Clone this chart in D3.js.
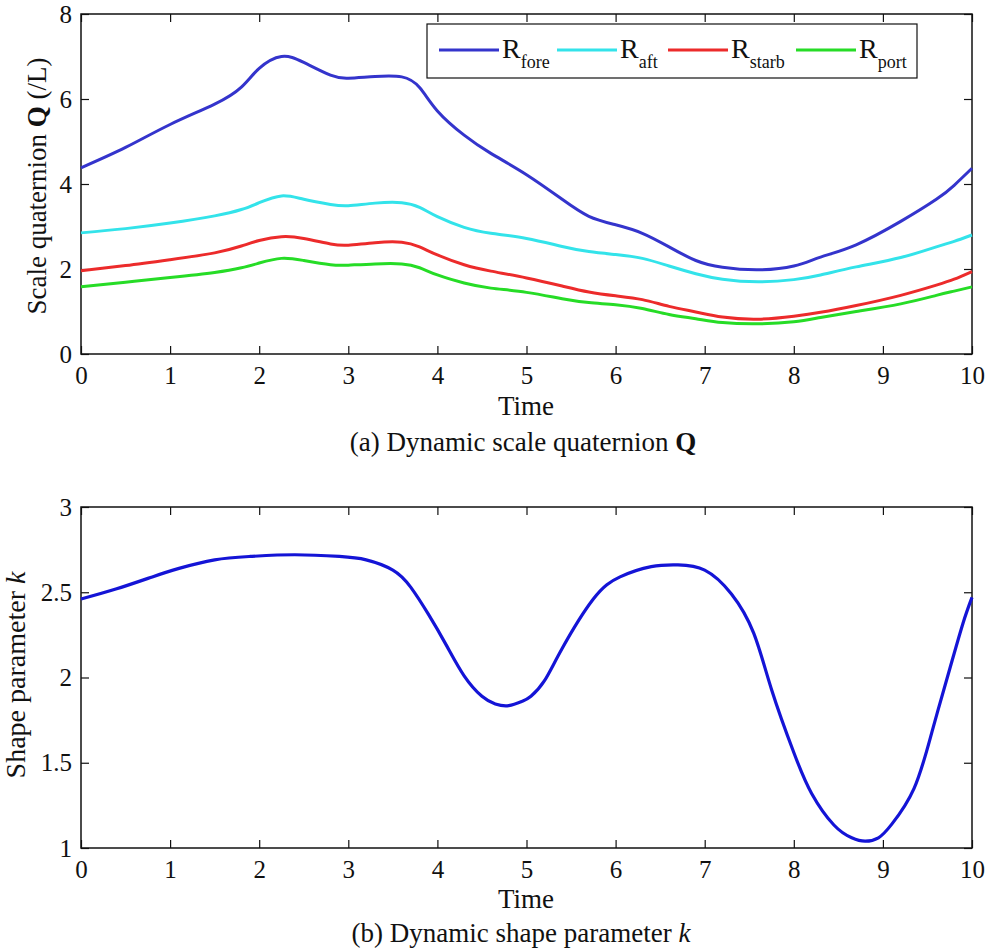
<!DOCTYPE html>
<html>
<head>
<meta charset="utf-8">
<script src="https://cdn.jsdelivr.net/npm/d3@7"></script>
<style>
  body { margin: 0; background: #fff; }
  svg text { font-family: "Liberation Serif", "Times New Roman", serif; fill: #111; }
  .axis path { display: none; }
  .axis line { stroke: #111; stroke-width: 1.2; }
  .axis text { font-size: 25px; }
</style>
</head>
<body>
<div id="chart"></div>
<script>
// time grid for panel (a)
const timeA = [0, 0.5, 1, 1.5, 1.8, 2, 2.25, 2.5, 2.8, 3, 3.3, 3.6, 3.8, 4, 4.3, 4.6, 5, 5.4, 5.7, 6, 6.3, 6.6, 6.9, 7.2, 7.6, 8, 8.3, 8.7, 9.2, 9.6, 9.8, 10];
const rFore  = [4.38, 4.86, 5.40, 5.88, 6.28, 6.72, 7.00, 6.86, 6.56, 6.49, 6.53, 6.52, 6.27, 5.72, 5.15, 4.72, 4.22, 3.64, 3.24, 3.04, 2.84, 2.52, 2.20, 2.04, 1.98, 2.07, 2.28, 2.57, 3.12, 3.64, 3.97, 4.37];
const rAft   = [2.85, 2.95, 3.08, 3.25, 3.40, 3.56, 3.72, 3.64, 3.52, 3.49, 3.55, 3.56, 3.45, 3.23, 2.98, 2.84, 2.72, 2.53, 2.41, 2.34, 2.25, 2.07, 1.89, 1.76, 1.70, 1.75, 1.86, 2.05, 2.27, 2.52, 2.65, 2.80];
const rStarb = [1.96, 2.08, 2.22, 2.38, 2.54, 2.67, 2.76, 2.72, 2.59, 2.56, 2.62, 2.63, 2.52, 2.33, 2.10, 1.95, 1.79, 1.60, 1.46, 1.37, 1.28, 1.12, 0.99, 0.87, 0.82, 0.89, 0.98, 1.14, 1.38, 1.62, 1.76, 1.94];
const rPort  = [1.58, 1.69, 1.80, 1.92, 2.03, 2.14, 2.25, 2.20, 2.10, 2.09, 2.12, 2.12, 2.03, 1.86, 1.67, 1.55, 1.45, 1.30, 1.21, 1.16, 1.07, 0.93, 0.83, 0.74, 0.71, 0.76, 0.86, 1.00, 1.18, 1.38, 1.48, 1.58];

// panel (b)
const timeB = [0, 0.4, 0.8, 1.1, 1.5, 1.9, 2.4, 2.9, 3.2, 3.5, 3.7, 3.9, 4.1, 4.3, 4.5, 4.65, 4.8, 4.95, 5.05, 5.2, 5.4, 5.75, 6.05, 6.4, 6.7, 7.0, 7.3, 7.55, 7.75, 8.0, 8.2, 8.45, 8.65, 8.8, 8.95, 9.1, 9.35, 9.55, 9.75, 9.9, 10];
const shapeK = [2.46, 2.52, 2.59, 2.64, 2.69, 2.71, 2.72, 2.71, 2.69, 2.63, 2.53, 2.37, 2.19, 2.01, 1.89, 1.845, 1.835, 1.86, 1.89, 1.98, 2.17, 2.46, 2.59, 2.65, 2.66, 2.63, 2.49, 2.26, 1.93, 1.56, 1.32, 1.135, 1.06, 1.04, 1.06, 1.14, 1.35, 1.68, 2.05, 2.32, 2.47];

const xTicks = [0, 1, 2, 3, 4, 5, 6, 7, 8, 9, 10];
const yTicksA = [0, 2, 4, 6, 8];
const yTicksB = [1, 1.5, 2, 2.5, 3];

const seriesA = [
  {name: 'fore',  values: rFore,  color: '#3434cc'},
  {name: 'aft',   values: rAft,   color: '#33e3ea'},
  {name: 'starb', values: rStarb, color: '#ec2b2b'},
  {name: 'port',  values: rPort,  color: '#26dc26'}
];

const width = 992, height = 951;
const svg = d3.select('#chart').append('svg')
  .attr('width', width)
  .attr('height', height);

function drawPanel(opts) {
  const {top, bottom, left, right, yDomain, yTicks, yFormat} = opts;
  const x = d3.scaleLinear().domain([0, 10]).range([left, right]);
  const y = d3.scaleLinear().domain(yDomain).range([bottom, top]);
  const g = svg.append('g');

  g.append('g').attr('class', 'axis')
    .attr('transform', `translate(0,${bottom})`)
    .call(d3.axisBottom(x).tickValues(xTicks).tickSize(-8).tickPadding(12).tickFormat(d3.format('d')));
  g.append('g').attr('class', 'axis')
    .attr('transform', `translate(0,${top})`)
    .call(d3.axisTop(x).tickValues(xTicks).tickSize(-8).tickFormat(''));
  g.append('g').attr('class', 'axis')
    .attr('transform', `translate(${left},0)`)
    .call(d3.axisLeft(y).tickValues(yTicks).tickSize(-8).tickPadding(9).tickFormat(yFormat));
  g.append('g').attr('class', 'axis')
    .attr('transform', `translate(${right},0)`)
    .call(d3.axisRight(y).tickValues(yTicks).tickSize(-8).tickFormat(''));

  g.append('rect')
    .attr('x', left).attr('y', top)
    .attr('width', right - left).attr('height', bottom - top)
    .attr('fill', 'none').attr('stroke', '#111').attr('stroke-width', 1.5);

  return {g, x, y};
}

// ---- panel (a)
const pa = drawPanel({top: 14, bottom: 354, left: 81, right: 972, yDomain: [0, 8], yTicks: yTicksA, yFormat: d3.format('d')});
const lineA = d3.line()
  .x((d, i) => pa.x(timeA[i]))
  .y(d => pa.y(d))
  .curve(d3.curveNatural);

pa.g.selectAll('.series')
  .data(seriesA)
  .enter().append('path')
  .attr('class', 'series')
  .attr('d', s => lineA(s.values))
  .attr('fill', 'none')
  .attr('stroke', s => s.color)
  .attr('stroke-width', 3);

// legend
const legend = pa.g.append('g');
legend.append('rect')
  .attr('x', 427).attr('y', 24).attr('width', 490).attr('height', 54)
  .attr('fill', '#fff').attr('stroke', '#111').attr('stroke-width', 1.2);
const legendX = [439, 557, 668, 796];
seriesA.forEach((s, i) => {
  legend.append('line')
    .attr('x1', legendX[i]).attr('x2', legendX[i] + 60)
    .attr('y1', 50).attr('y2', 50)
    .attr('stroke', s.color).attr('stroke-width', 3);
  const t = legend.append('text')
    .attr('x', legendX[i] + 63).attr('y', 58)
    .style('font-size', '28px');
  t.append('tspan').text('R');
  t.append('tspan').attr('dy', 10).style('font-size', '18px').text(s.name);
});

pa.g.append('text')
  .attr('transform', `translate(46,186) rotate(-90)`)
  .attr('text-anchor', 'middle')
  .style('font-size', '27px')
  .call(t => {
    t.append('tspan').text('Scale quaternion ');
    t.append('tspan').style('font-weight', 'bold').text('Q');
    t.append('tspan').text(' (/L)');
  });

pa.g.append('text')
  .attr('x', 526).attr('y', 415)
  .attr('text-anchor', 'middle')
  .style('font-size', '27px')
  .text('Time');

pa.g.append('text')
  .attr('x', 523).attr('y', 451)
  .attr('text-anchor', 'middle')
  .style('font-size', '27px')
  .call(t => {
    t.append('tspan').text('(a) Dynamic scale quaternion  ');
    t.append('tspan').style('font-weight', 'bold').text('Q');
  });

// ---- panel (b)
const pb = drawPanel({top: 507, bottom: 848, left: 81, right: 972, yDomain: [1, 3], yTicks: yTicksB, yFormat: d => String(d)});
const lineB = d3.line()
  .x((d, i) => pb.x(timeB[i]))
  .y(d => pb.y(d))
  .curve(d3.curveNatural);

pb.g.append('path')
  .attr('d', lineB(shapeK))
  .attr('fill', 'none')
  .attr('stroke', '#1414d6')
  .attr('stroke-width', 3.2);

pb.g.append('text')
  .attr('transform', `translate(25,675) rotate(-90)`)
  .attr('text-anchor', 'middle')
  .style('font-size', '28px')
  .call(t => {
    t.append('tspan').text('Shape parameter ');
    t.append('tspan').style('font-style', 'italic').text('k');
  });

pb.g.append('text')
  .attr('x', 526).attr('y', 908)
  .attr('text-anchor', 'middle')
  .style('font-size', '27px')
  .text('Time');

pb.g.append('text')
  .attr('x', 521).attr('y', 942)
  .attr('text-anchor', 'middle')
  .style('font-size', '27px')
  .call(t => {
    t.append('tspan').text('(b) Dynamic shape parameter  ');
    t.append('tspan').style('font-style', 'italic').text('k');
  });
</script>
</body>
</html>
